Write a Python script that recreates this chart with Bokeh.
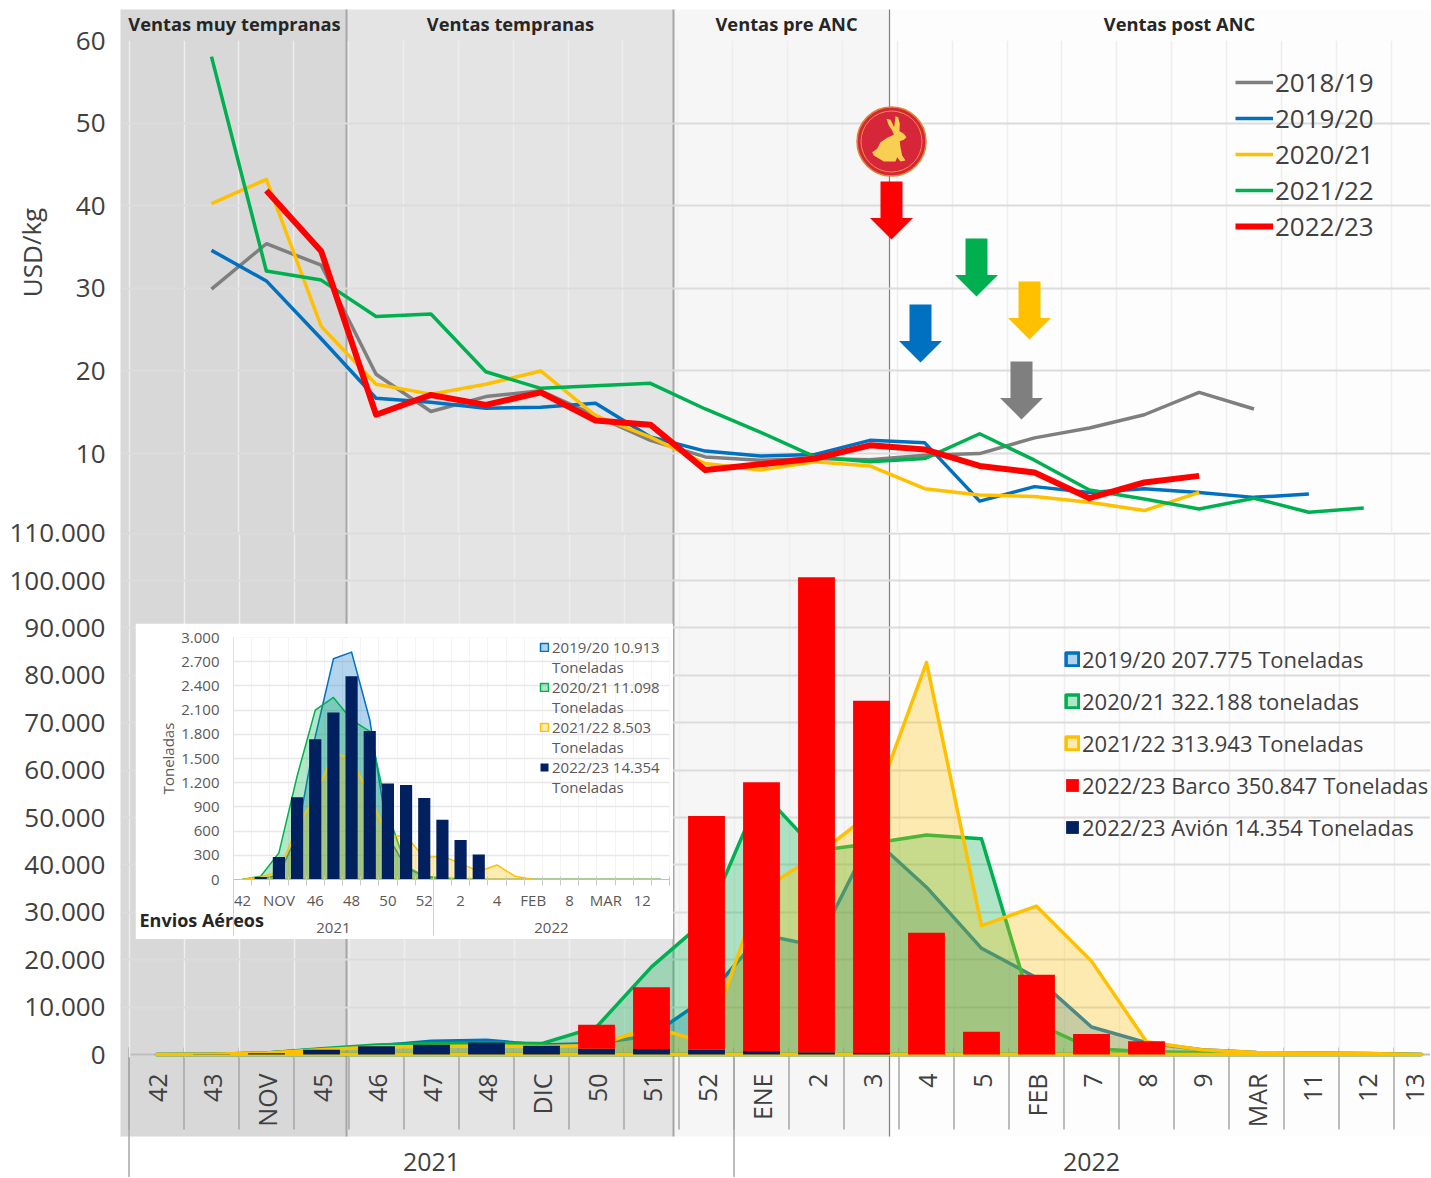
from bokeh.plotting import figure
from bokeh.embed import file_html
from bokeh.resources import INLINE
from bokeh.core.properties import value
from bokeh.models import (Range1d, FixedTicker, LinearAxis, Legend, LegendItem, Grid)
import math

# ---------- data ----------
weeks = ["42","43","NOV","45","46","47","48","DIC","50","51","52","ENE","2","3","4","5","FEB","7","8","9","MAR","11","12","13"]
idx = list(range(len(weeks)))

price_1819 = [None,29.9,35.4,32.8,19.6,15.1,16.9,17.6,14.6,11.6,9.6,9.2,9.4,9.25,9.8,10.0,11.9,13.1,14.7,17.4,15.4]
price_1920 = [None,34.6,30.9,23.9,16.7,16.2,15.5,15.6,16.1,12.0,10.3,9.7,9.9,11.6,11.3,4.25,6.0,5.3,5.75,5.3,4.7,5.1]
price_2021 = [None,40.25,43.2,25.4,18.4,17.2,18.4,20.0,14.6,12.0,8.8,8.0,9.0,8.5,5.75,5.0,4.8,4.1,3.1,5.3]
price_2122 = [None,58.05,32.1,31.0,26.6,26.9,19.9,17.9,18.2,18.5,15.4,12.6,9.6,9.0,9.4,12.4,9.2,5.6,4.5,3.3,4.6,2.9,3.4]
price_2223 = [None,None,41.85,34.5,14.7,17.1,15.9,17.4,14.0,13.5,8.0,8.7,9.4,11.0,10.5,8.5,7.7,4.6,6.5,7.3]

vol_1920 = [0,50,300,1100,1800,2800,3000,2000,2300,4000,12000,25350,22900,45900,35300,22400,16200,5800,2500,1000,400,300,200,0]
vol_2021 = [0,50,300,1200,2000,2300,2400,2300,5800,18500,28500,55500,43000,44500,46300,45500,6600,1250,600,400,200,100,50,0]
vol_2122 = [0,50,300,1000,1600,1700,1800,1700,1900,5800,2500,34700,42000,51000,82700,27200,31300,19700,2700,1000,400,300,200,0]
vol_barco = [0,0,0,0,0,0,0,0,5100,13000,49300,56700,100200,74300,25700,4800,16800,4300,2800,0,0,0,0,0]
vol_avion = [0,30,280,1020,1740,2070,2520,1840,1190,1170,1010,740,490,310,0,0,0,0,0,0,0,0,0,0]

air_1920 = [0,0,60,550,1770,2736,2819,1981,540,145,40,10,0,0,0,0,0,0,0,0,0,0,0,0]
air_2021 = [0,40,330,1280,2100,2257,1980,1836,820,165,40,20,10,0,0,0,0,0,0,0,0,0,0,0]
air_2122 = [0,30,100,650,1030,1570,1500,1030,540,540,270,290,200,100,180,40,0,0,0,0,0,0,0,0]

season_labels = ["2018/19","2019/20","2020/21","2021/22","2022/23"]
vol_labels = ["2019/20 207.775 Toneladas","2020/21 322.188 toneladas","2021/22 313.943 Toneladas","2022/23 Barco 350.847 Toneladas","2022/23 Avión 14.354 Toneladas"]
air_labels = ["2019/20 10.913","2020/21 11.098","2021/22 8.503","2022/23 14.354"]
ins_week_labels=["42","NOV","46","48","50","52","2","4","FEB","8","MAR","12"]
phase_labels = ["Ventas muy tempranas","Ventas tempranas","Ventas pre ANC","Ventas post ANC"]

GREY, BLUE, YELLOW, GREEN, RED, NAVY = "#7f7f7f","#0070c0","#ffc000","#00b050","#ff0000","#002060"
FONT = "Open Sans"
TXT = "#404040"

def place(fig, left, top, z):
    fig.styles = {"position":"absolute","left":f"{left}px","top":f"{top}px","z-index":str(z)}
    return fig

def X(px): return (px-157.1)/54.87
def Y(py): return (536.7-py)/8.262
def XB(px): return (px-157)/55
def clean(xs, ys):
    pairs = [(a,b) for a,b in zip(xs,ys) if b is not None]
    return [a for a,_ in pairs],[b for _,b in pairs]
halves = [i-0.5 for i in range(25)]

def px_figure():
    return figure(width=1423,height=1170,x_range=Range1d(8,1431),y_range=Range1d(1178,8),
            output_backend="svg",toolbar_location=None,min_border=0,outline_line_color=None,
            background_fill_alpha=0,border_fill_alpha=0)

# ---------- background: phase bands ----------
bg = px_figure()
bg.axis.visible=False; bg.grid.visible=False
edges=[121,347,674,890,1431]; fills=["#d8d8d8","#e4e4e4","#f6f6f6","#fdfdfd"]
bg.quad(left=edges[:-1],right=edges[1:],top=[10]*4,bottom=[1137]*4,fill_color=fills,line_color=None)
bg.segment(x0=[347,674],x1=[347,674],y0=[10,10],y1=[1137,1137],line_color="#a6a6a6",line_width=2)
bg.segment(x0=[890],x1=[890],y0=[10],y1=[1137],line_color="#7f7f7f",line_width=1.2)
bg.segment(x0=[129],x1=[1431],y0=[1055],y1=[1055],line_color="#bfbfbf",line_width=2)
sep=[157+55*h for h in halves]
bg.segment(x0=sep,x1=sep,y0=[1048]*len(sep),y1=[1130]*len(sep),line_color="#a6a6a6",line_width=1.5)
yr_sep=[157+55*h for h in (-0.5,10.5)]
bg.segment(x0=yr_sep,x1=yr_sep,y0=[1048]*2,y1=[1178]*2,line_color="#a6a6a6",line_width=1.5)
bg.text(x=[235,511,787,1180],y=[24]*4,text=phase_labels,text_font=value(FONT),text_font_style="bold",
        text_font_size="18.3px",text_align="center",text_baseline="middle",text_color="#262626")

# ---------- price panel ----------
top = figure(width=1423,height=525,x_range=Range1d(X(121),X(1431)),y_range=Range1d(Y(533),60),
             output_backend="svg",toolbar_location=None,min_border_left=113,min_border_right=0,
             min_border_top=33,min_border_bottom=0,outline_line_color=None,
             background_fill_alpha=0,border_fill_alpha=0)
top.xaxis.visible=False
top.grid.visible=False
top.add_layout(Grid(dimension=0,ticker=FixedTicker(ticks=halves),grid_line_color="#eeeeee",grid_line_width=1.5))
top.add_layout(Grid(dimension=1,ticker=FixedTicker(ticks=[10,20,30,40,50,60]),grid_line_color="#dcdcdc",grid_line_width=2))
ya=top.yaxis[0]
ya.ticker=FixedTicker(ticks=[10,20,30,40,50,60])
ya.axis_line_color=None; ya.major_tick_line_color=None; ya.minor_tick_line_color=None
ya.major_label_text_font=FONT; ya.major_label_text_font_size="26px"; ya.major_label_text_color=TXT
ya.major_label_standoff=9

renderers=[]
for ys,c,w in [(price_1819,GREY,3.5),(price_1920,BLUE,3.5),(price_2021,YELLOW,3.5),(price_2122,GREEN,3.5),(price_2223,RED,6)]:
    xs,vs=clean(idx,ys)
    renderers.append(top.line(xs,vs,line_color=c,line_width=w,line_join="round"))
top.add_layout(Legend(items=[LegendItem(label=l,renderers=[r]) for l,r in zip(season_labels,renderers)],
    location=(1115,288),margin=0,padding=0,glyph_width=38,glyph_height=20,label_standoff=2,spacing=0,
    label_text_font=FONT,label_text_font_size="26px",label_text_color=TXT,
    background_fill_alpha=0,border_line_color=None))

# release arrows
arrow_cx=[892,921,977,1030,1022]; arrow_top=[182,305,239,282,362]; arrow_col=[RED,BLUE,GREEN,YELLOW,GREY]
for cx,t,c in zip(arrow_cx,arrow_top,arrow_col):
    px=[cx-11,cx+11,cx+11,cx+21.5,cx,cx-21.5,cx-11]
    py=[t,t,t+36.5,t+36.5,t+58,t+36.5,t+36.5]
    top.patch([X(a) for a in px],[Y(b) for b in py],fill_color=c,line_color=None)
# rabbit medallion
cxr,cyr=892,142
top.scatter([X(cxr)],[Y(cyr)],marker="circle",size=69,fill_color="#d6273a",line_color="#e0852c",line_width=1.5)
top.scatter([X(cxr)],[Y(cyr)],marker="circle",size=61,fill_color=None,line_color="#e9913a",line_width=1)
rx=[108,120,131,135,143,148,147,160,168,160,148,150,155,165,150,140,135,100,70,65,80,90,110,130,125,115]
ry=[55,58,80,47,50,70,92,100,110,118,122,140,165,180,183,170,183,183,165,155,145,125,112,103,90,75]
top.patch([X(cxr+(a-123)/3) for a in rx],[Y(cyr+(b-123)/3) for b in ry],fill_color="#f8cf52",line_color=None)

# ---------- volume panel ----------
vt=[i*10000 for i in range(12)]
def esp(v): return f"{v:,}".replace(",",".")
VY=lambda py:(1055-py)/47.4*10000
bot = figure(width=1443,height=668,x_range=Range1d(XB(121),XB(1431)),y_range=Range1d(VY(1058),VY(533)),
             output_backend="svg",toolbar_location=None,min_border_left=133,min_border_right=0,
             min_border_top=23,min_border_bottom=120,outline_line_color=None,
             background_fill_alpha=0,border_fill_alpha=0)
bot.grid.visible=False
bot.add_layout(Grid(dimension=0,ticker=FixedTicker(ticks=halves),grid_line_color="#eeeeee",grid_line_width=1.5))
bot.add_layout(Grid(dimension=1,ticker=FixedTicker(ticks=vt[1:]),grid_line_color="#dcdcdc",grid_line_width=2))
ya=bot.yaxis[0]
ya.ticker=FixedTicker(ticks=vt); ya.major_label_overrides={v:esp(v) for v in vt}
ya.axis_line_color=None; ya.major_tick_line_color=None; ya.minor_tick_line_color=None
ya.major_label_text_font=FONT; ya.major_label_text_font_size="26px"; ya.major_label_text_color=TXT
ya.major_label_standoff=9
xa=bot.xaxis[0]
xa.ticker=FixedTicker(ticks=idx)
xa.major_label_overrides=dict(zip(idx,weeks))
xa.major_label_orientation=math.pi/2
xa.axis_line_color=None; xa.major_tick_line_color=None; xa.minor_tick_line_color=None
xa.major_label_standoff=10; xa.major_label_text_font=FONT; xa.major_label_text_font_size="25px"; xa.major_label_text_color=TXT
ya2=LinearAxis(ticker=FixedTicker(ticks=[5,17]),major_label_overrides={5:"2021",17:"2022"})
ya2.axis_line_color=None; ya2.major_tick_line_color=None; ya2.minor_tick_line_color=None
ya2.major_label_standoff=16; ya2.major_label_text_font=FONT; ya2.major_label_text_font_size="25px"; ya2.major_label_text_color=TXT
bot.add_layout(ya2,"below")

def area(p,vals,c,w,alpha):
    return p.patch(idx+idx[::-1],vals+[0]*len(vals),fill_color=c,fill_alpha=alpha,line_color=c,line_width=w,line_join="round")
a1=area(bot,vol_1920,BLUE,3.5,0.3); a2=area(bot,vol_2021,GREEN,3.5,0.3); a3=area(bot,vol_2122,YELLOW,3.5,0.3)
src=dict(x=idx,avion=vol_avion,barco=vol_barco)
st=bot.vbar_stack(["avion","barco"],x="x",width=0.67,color=[NAVY,RED],line_color=None,source=src)
bot.add_layout(Legend(items=[LegendItem(label=l,renderers=[r]) for l,r in zip(vol_labels,[a1,a2,a3,st[1],st[0]])],
    location=(944,215),margin=0,padding=0,glyph_width=16,glyph_height=16,label_standoff=2,spacing=12,
    label_text_font=FONT,label_text_font_size="22px",label_text_color=TXT,
    background_fill_alpha=0,border_line_color=None))

# ---------- inset: air shipments ----------
ins = figure(width=538,height=316,x_range=Range1d(-0.5,23.5),y_range=Range1d(0,3000),
             output_backend="svg",toolbar_location=None,min_border_left=98,min_border_right=4,
             min_border_top=14,min_border_bottom=60,outline_line_color=None,
             background_fill_color="white",border_fill_color="white")
ins.grid.visible=False
ins.add_layout(Grid(dimension=0,ticker=FixedTicker(ticks=halves),grid_line_color="#f3f3f3",grid_line_width=1))
it=list(range(300,3300,300))
ins.add_layout(Grid(dimension=1,ticker=FixedTicker(ticks=it),grid_line_color="#e8e8e8",grid_line_width=1.5))
ya=ins.yaxis[0]
it0=[0]+it
ya.ticker=FixedTicker(ticks=it0); ya.major_label_overrides={v:esp(v) for v in it0}
ya.axis_line_color="#e0e0e0"; ya.major_tick_line_color=None; ya.minor_tick_line_color=None
ya.major_label_text_font=FONT; ya.major_label_text_font_size="15px"; ya.major_label_text_color="#595959"
ya.major_label_standoff=8
ya.axis_label="Toneladas"; ya.axis_label_text_font=FONT; ya.axis_label_text_font_size="15px"
ya.axis_label_text_font_style="normal"; ya.axis_label_text_color="#595959"; ya.axis_label_standoff=0
xa=ins.xaxis[0]
xt=idx[::2]
xa.ticker=FixedTicker(ticks=xt,minor_ticks=halves)
xa.major_label_overrides=dict(zip(xt,ins_week_labels))
xa.axis_line_color="#bfbfbf"; xa.major_tick_line_color=None
xa.minor_tick_line_color="#c8c8c8"; xa.minor_tick_in=3; xa.minor_tick_out=6
xa.major_label_standoff=4; xa.major_label_text_font=FONT; xa.major_label_text_font_size="15px"; xa.major_label_text_color="#595959"
xa2=LinearAxis(ticker=FixedTicker(ticks=[5,17]),major_label_overrides={5:"2021",17:"2022"})
xa2.axis_line_color=None; xa2.major_tick_line_color=None; xa2.minor_tick_line_color=None
xa2.major_label_standoff=4; xa2.major_label_text_font=FONT; xa2.major_label_text_font_size="15px"; xa2.major_label_text_color="#595959"
ins.add_layout(xa2,"below")
xa3=LinearAxis(ticker=FixedTicker(ticks=[],minor_ticks=[-0.5,10.5]))
xa3.axis_line_color=None; xa3.major_tick_line_color=None; xa3.major_label_text_font_size="1px"; xa3.major_label_standoff=0
xa3.minor_tick_line_color="#d0d0d0"; xa3.minor_tick_in=62; xa3.minor_tick_out=0
ins.add_layout(xa3,"below")
b1=area(ins,air_1920,BLUE,1.5,0.3); b2=area(ins,air_2021,GREEN,1.5,0.3); b3=area(ins,air_2122,YELLOW,1.5,0.3)
b4=ins.vbar(idx,0.67,vol_avion,color=NAVY,line_color=None)
ghost=ins.scatter([0],[-100],alpha=0)
items=[]
for l,r in zip(air_labels,[b1,b2,b3,b4]):
    items+= [LegendItem(label=l,renderers=[r]),LegendItem(label="Toneladas",renderers=[ghost])]
ins.add_layout(Legend(items=items,location=(306,82),margin=0,padding=0,glyph_width=10,glyph_height=10,label_standoff=3,spacing=0,
    label_height=16,label_text_font=FONT,label_text_font_size="15px",label_text_color="#595959",
    background_fill_alpha=0,border_line_color=None))

# ---------- titles placed over the panels ----------
ann = px_figure()
ann.axis.visible=False; ann.grid.visible=False
ann.text(x=[32],y=[253],text=["USD/kg"],angle=[math.pi/2],text_font=value(FONT),text_font_size="26px",
         text_color=TXT,text_align="center",text_baseline="middle")
ann.text(x=[140],y=[920],text=["Envios Aéreos"],text_font=value(FONT),text_font_style="bold",text_font_size="18px",
         text_color="#262626",text_align="left",text_baseline="middle")

place(bg,7,7,0); place(top,7,7,1); place(bot,-13,509,2); place(ins,135,623,3); place(ann,7,7,4)
open("out.html","w").write(file_html([bg,top,bot,ins,ann],INLINE))
